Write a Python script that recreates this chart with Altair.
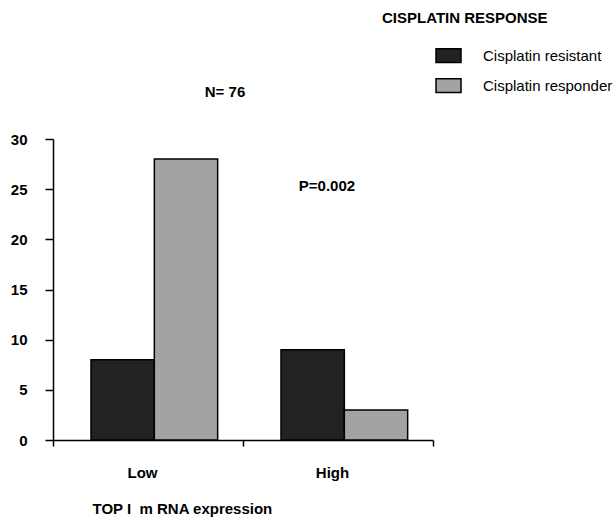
import altair as alt
import pandas as pd

groups = ["Low", "Low", "High", "High"]
responses = ["Cisplatin resistant", "Cisplatin responder", "Cisplatin resistant", "Cisplatin responder"]
counts = [8, 28, 9, 3]
group_order = ["Low", "High"]
response_order = ["Cisplatin resistant", "Cisplatin responder"]
colors = ["#222222", "#a3a3a3"]
y_ticks = [0, 5, 10, 15, 20, 25, 30]

df = pd.DataFrame({"group": groups, "response": responses, "count": counts})

FONT = "Liberation Sans"

bars = alt.Chart(df).mark_bar(stroke="black", strokeWidth=1.5).encode(
    x=alt.X(
        "group:N",
        sort=group_order,
        scale=alt.Scale(paddingInner=0, paddingOuter=0),
        axis=alt.Axis(
            title="TOP I\u00a0\u00a0m RNA expression",
            titleFont=FONT, titleFontSize=15, titleFontWeight="bold",
            titleAnchor="start", titleAlign="left", titleBaseline="middle",
            titleX=39, titleY=68,
            labelAngle=0, labelFont=FONT, labelFontSize=15, labelFontWeight="bold",
            labelPadding=19, labelColor="black", labelOffset=-6,
            tickBand="extent", tickSize=6, tickColor="black", tickWidth=1.5,
            domainColor="black", domainWidth=1.5,
        ),
    ),
    xOffset=alt.XOffset(
        "response:N", sort=response_order,
        scale=alt.Scale(paddingOuter=0.5, paddingInner=0, align=0.6),
    ),
    y=alt.Y(
        "count:Q",
        scale=alt.Scale(domain=[0, 30], nice=False),
        axis=alt.Axis(
            title=None, values=y_ticks, grid=False,
            labelFont=FONT, labelFontSize=15, labelFontWeight="bold",
            labelPadding=18, labelColor="black",
            tickSize=8, tickColor="black", tickWidth=1.5,
            domainColor="black", domainWidth=1.5,
        ),
    ),
    fill=alt.Fill(
        "response:N",
        sort=response_order,
        scale=alt.Scale(domain=response_order, range=colors),
        legend=alt.Legend(
            title=None, orient="none", legendX=382, legendY=-97,
            symbolType="M-1,-0.55H1V0.55H-1Z", symbolSize=625,
            symbolStrokeColor="black", symbolStrokeWidth=1.5,
            labelFont=FONT, labelFontSize=15, labelColor="black",
            labelOffset=21, rowPadding=6,
        ),
    ),
)

notes = pd.DataFrame({"t": ["N= 76", "P=0.002", "CISPLATIN RESPONSE"]})

n_text = alt.Chart(notes[notes.t == "N= 76"]).mark_text(
    font=FONT, fontSize=15, fontWeight="bold", align="center", baseline="middle", color="black"
).encode(x=alt.value(172), y=alt.value(-47), text="t:N")

p_text = alt.Chart(notes[notes.t == "P=0.002"]).mark_text(
    font=FONT, fontSize=15, fontWeight="bold", align="center", baseline="middle", color="black"
).encode(x=alt.value(274), y=alt.value(47), text="t:N")

leg_title = alt.Chart(notes[notes.t == "CISPLATIN RESPONSE"]).mark_text(
    font=FONT, fontSize=15, fontWeight="bold", align="left", baseline="middle", color="black"
).encode(x=alt.value(329), y=alt.value(-121), text="t:N")

chart = alt.layer(bars, n_text, p_text, leg_title).properties(
    width=380,
    height=301,
    autosize=alt.AutoSizeParams(type="none"),
    padding={"left": 53, "top": 139, "right": 181, "bottom": 79},
    background="white",
).configure_view(stroke=None)

chart.save("out.html", embed_options={"renderer": "svg", "actions": False})
